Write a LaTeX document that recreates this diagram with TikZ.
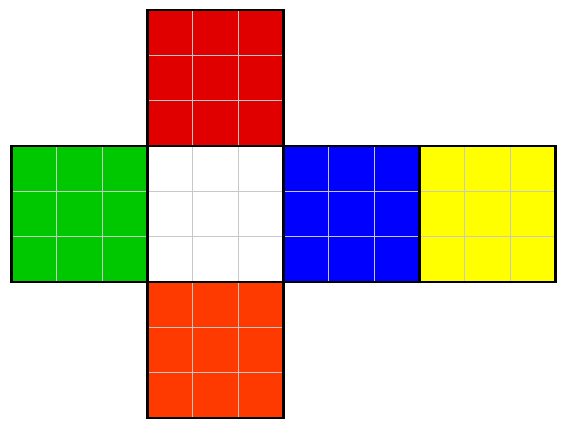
\documentclass[tikz,border=0pt]{standalone}
\definecolor{cred}{HTML}{E00000}
\definecolor{cgreen}{HTML}{00C800}
\definecolor{cblue}{HTML}{0000FF}
\definecolor{cyellow}{HTML}{FFFF00}
\definecolor{corange}{HTML}{FF3A00}
\definecolor{gridc}{HTML}{C8C8C8}
\tikzset{
  gridline/.style={draw=gridc, line width=0.8pt},
  faceborder/.style={draw=black, line width=2.4pt}
}
\newcommand{\cubeface}[3]{%
  \fill[#3] (#1,#2) rectangle ++(136,136);
  \draw[gridline] (#1+45.33,#2) -- ++(0,136) (#1+90.67,#2) -- ++(0,136)
                  (#1,#2+45.33) -- ++(136,0) (#1,#2+90.67) -- ++(136,0);
}
\begin{document}
\begin{tikzpicture}[x=1pt,y=-1pt]
\useasboundingbox[fill=white] (0,0) rectangle (581,432);
\cubeface{147.5}{10}{cred}
\cubeface{11.5}{146}{cgreen}
\cubeface{147.5}{146}{white}
\cubeface{283.5}{146}{cblue}
\cubeface{419.5}{146}{cyellow}
\cubeface{147.5}{282}{corange}
\draw[faceborder] (147.5,10) rectangle ++(136,136);
\draw[faceborder] (11.5,146) rectangle ++(136,136);
\draw[faceborder] (147.5,146) rectangle ++(136,136);
\draw[faceborder] (283.5,146) rectangle ++(136,136);
\draw[faceborder] (419.5,146) rectangle ++(136,136);
\draw[faceborder] (147.5,282) rectangle ++(136,136);
\end{tikzpicture}
\end{document}
